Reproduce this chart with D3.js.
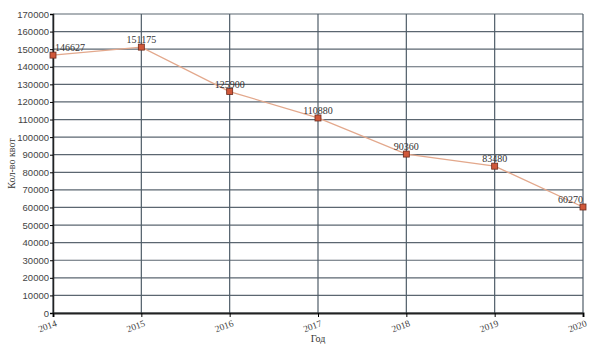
<!DOCTYPE html>
<meta charset="utf-8">
<body>
<script src="https://cdn.jsdelivr.net/npm/d3@7"></script>
<style>
    html, body {
        margin: 0;
        background: #fff;
    }
    text {
        font-family: "Liberation Serif", "DejaVu Serif", serif;
    }
</style>
<script>
var years = [2014, 2015, 2016, 2017, 2018, 2019, 2020],
    quotas = [146627, 151175, 125900, 110880, 90360, 83480, 60270],
    yTicks = d3.range(0, 170001, 10000);

var width = 600,
    height = 350,
    margin = {top: 14, right: 17, bottom: 37, left: 53},
    w = width - margin.left - margin.right,
    h = height - margin.top - margin.bottom;

var svg = d3.select("body").append("svg")
    .attr("width", width)
    .attr("height", height);

var g = svg.append("g")
    .attr("transform", "translate(" + margin.left + "," + margin.top + ")");

var x = d3.scaleLinear().domain([2014, 2020]).range([0, w]),
    y = d3.scaleLinear().domain([0, 170000]).range([h, 0]);

// grid
g.selectAll(".hgrid")
    .data(yTicks)
    .enter().append("line")
    .attr("x1", 0).attr("x2", w)
    .attr("y1", function(d) { return y(d); })
    .attr("y2", function(d) { return y(d); })
    .attr("stroke", "#5b6670")
    .attr("stroke-width", 1.2);

g.selectAll(".vgrid")
    .data(years)
    .enter().append("line")
    .attr("y1", 0).attr("y2", h)
    .attr("x1", function(d) { return x(d); })
    .attr("x2", function(d) { return x(d); })
    .attr("stroke", "#4f5d68")
    .attr("stroke-width", 1.2);

// axes
var yAxis = g.append("g")
    .call(d3.axisLeft(y).tickValues(yTicks).tickSize(3).tickFormat(d3.format("d")));
yAxis.select(".domain").attr("stroke", "#222").attr("stroke-width", 1.5);
yAxis.selectAll("text").attr("fill", "#444").style("font-size", "9.5px")
    .style("font-family", "'Liberation Sans', Arial, sans-serif").attr("x", -4);

var xAxis = g.append("g")
    .attr("transform", "translate(0," + h + ")")
    .call(d3.axisBottom(x).tickValues(years).tickSize(4).tickFormat(d3.format("d")));
xAxis.select(".domain").attr("stroke", "#222").attr("stroke-width", 2);
xAxis.selectAll("text")
    .attr("fill", "#444")
    .style("font-size", "9.5px")
    .attr("text-anchor", "end")
    .attr("y", 0)
    .attr("dy", "0")
    .attr("transform", "translate(4,13) rotate(-20)");

// line
var line = d3.line()
    .x(function(d, i) { return x(years[i]); })
    .y(function(d) { return y(d); });

g.append("path")
    .datum(quotas)
    .attr("fill", "none")
    .attr("stroke", "#e3a88c")
    .attr("stroke-width", 1.3)
    .attr("d", line);

g.selectAll(".pt")
    .data(quotas)
    .enter().append("rect")
    .attr("x", function(d, i) { return x(years[i]) - 3; })
    .attr("y", function(d) { return y(d) - 3; })
    .attr("width", 6)
    .attr("height", 6)
    .attr("fill", "#d0583a")
    .attr("stroke", "#6b2a1c")
    .attr("stroke-width", 0.8);

g.selectAll(".lbl")
    .data(quotas)
    .enter().append("text")
    .attr("x", function(d, i) { return x(years[i]) + (i === 0 ? 2 : 0); })
    .attr("y", function(d) { return y(d) - 4; })
    .attr("text-anchor", function(d, i) { return i === 0 ? "start" : i === quotas.length - 1 ? "end" : "middle"; })
    .attr("fill", "#333")
    .style("font-size", "10px")
    .text(function(d) { return d; });

// titles
svg.append("text")
    .attr("x", margin.left + x(2017))
    .attr("y", 342)
    .attr("text-anchor", "middle")
    .attr("fill", "#333")
    .style("font-size", "10px")
    .text("Год");

svg.append("text")
    .attr("transform", "translate(15," + (margin.top + h / 2) + ") rotate(-90)")
    .attr("text-anchor", "middle")
    .attr("fill", "#333")
    .style("font-size", "10px")
    .text("Кол-во квот");
</script>
